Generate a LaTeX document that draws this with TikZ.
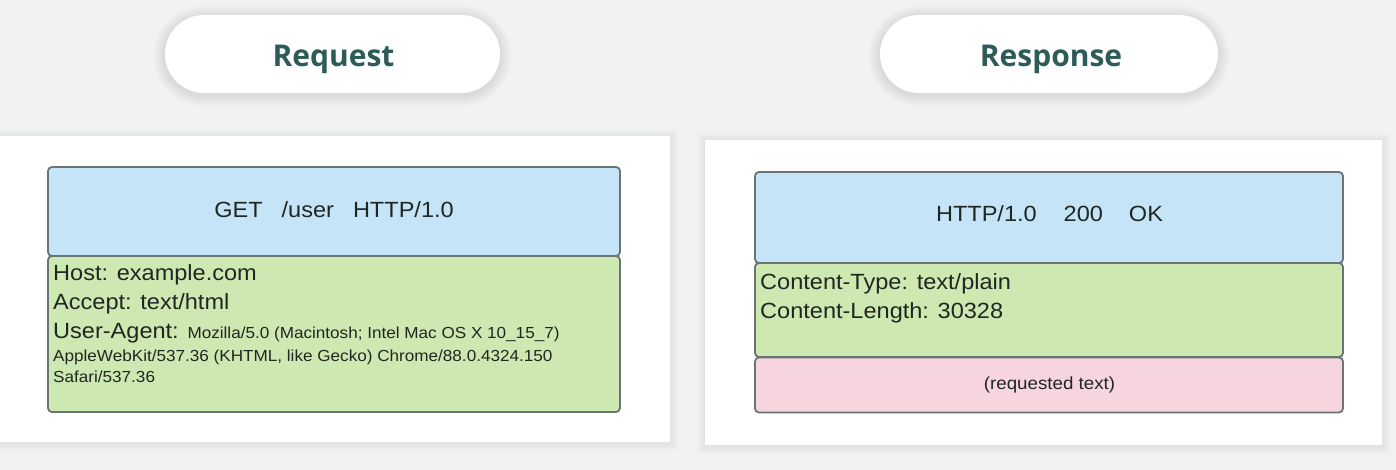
\documentclass[tikz,border=0pt]{standalone}
\usepackage{fontspec}
\newfontfamily\boxfont[FakeStretch=1.07]{Liberation Sans}
\newfontfamily\titlefont{Open Sans}
\definecolor{bgc}{HTML}{F1F3F3}
\definecolor{hdrblue}{HTML}{C6E4F7}
\definecolor{hdrgreen}{HTML}{CDE8B1}
\definecolor{bodypink}{HTML}{F7D5DE}
\definecolor{edgec}{HTML}{6B7474}
\definecolor{titlec}{HTML}{2D5C58}
\definecolor{txtc}{HTML}{1F2722}
\newcommand{\bigtxt}{\boxfont\fontsize{22}{26}\selectfont}
\newcommand{\smalltxt}{\boxfont\fontsize{16}{19}\selectfont}
\tikzset{
  pill/.style={rectangle, rounded corners=39pt, fill=white, minimum width=335pt, minimum height=78pt, inner sep=0pt},
  shadowlayer/.style={rectangle, fill=black, fill opacity=0.009, inner sep=0pt},
  panel/.style={rectangle, fill=white, inner sep=0pt},
  title/.style={inner sep=0pt, anchor=base, text=titlec, font=\titlefont\bfseries\fontsize{30}{36}\selectfont},
  boxpart/.style={rectangle, rounded corners=4pt, draw=edgec, line width=1.8pt, inner sep=0pt},
  line/.style={inner sep=0pt, anchor=base west, text=txtc, font=\bigtxt},
  cline/.style={inner sep=0pt, anchor=base, text=txtc, font=\bigtxt},
}
\begin{document}
\begin{tikzpicture}[x=1pt,y=-1pt]
\useasboundingbox (0,0) rectangle (1396,470);
\fill[bgc] (0,0) rectangle (1396,470);

% soft shadows
\foreach \i in {1,...,12}{
  \node[shadowlayer, rounded corners=39pt+\i pt, minimum width=335pt+2*\i pt, minimum height=78pt+2*\i pt] (reqsh\i) at (332.5,56) {};
  \node[shadowlayer, rounded corners=39pt+\i pt, minimum width=338pt+2*\i pt, minimum height=78pt+2*\i pt] (ressh\i) at (1049,56) {};
}
\foreach \i in {1,...,8}{
  \node[shadowlayer, minimum width=670pt+2*\i pt, minimum height=306pt+2*\i pt] (lpsh\i) at (335,290) {};
  \node[shadowlayer, minimum width=677pt+2*\i pt, minimum height=305pt+2*\i pt] (rpsh\i) at (1043.5,293.5) {};
}

% panels
\node[panel, minimum width=670pt, minimum height=306pt] (leftpanel) at (335,289) {};
\node[panel, minimum width=677pt, minimum height=305pt] (rightpanel) at (1043.5,292.5) {};

% title pills
\node[pill] (reqpill) at (332.5,54) {};
\node[pill, minimum width=338pt] (respill) at (1049,54) {};
\node[title] (reqtitle) at (333.5,67) {Request};
\node[title] (restitle) at (1051,67) {Response};

% request boxes
\node[boxpart, fill=hdrblue, minimum width=572pt, minimum height=89pt] (reqhead) at (334,211.5) {};
\node[boxpart, fill=hdrgreen, minimum width=572pt, minimum height=156pt] (reqhdrs) at (334,334) {};
\node[cline] (reqline) at (334,218) {GET\hspace{19pt}/user\hspace{19pt}HTTP/1.0};
\node[line] (hostln) at (53,280) {Host: example.com};
\node[line] (acceptln) at (53,309) {Accept: text/html};
\node[line] (ualn) at (53,338) {User-Agent: {\smalltxt Mozilla/5.0 (Macintosh; Intel Mac OS X 10\_15\_7)}};
\node[line, font=\smalltxt] (webkitln) at (53,361) {AppleWebKit/537.36 (KHTML, like Gecko) Chrome/88.0.4324.150};
\node[line, font=\smalltxt] (safariln) at (53,382) {Safari/537.36};

% response boxes
\node[boxpart, fill=hdrblue, minimum width=588pt, minimum height=91pt] (reshead) at (1049,217.5) {};
\node[boxpart, fill=hdrgreen, minimum width=588pt, minimum height=94pt] (reshdrs) at (1049,310) {};
\node[boxpart, fill=bodypink, minimum width=588pt, minimum height=55pt] (resbody) at (1049,385) {};
\node[cline] (statusln) at (1049.5,222) {HTTP/1.0\hspace{27pt}200\hspace{26pt}OK};
\node[line] (ctypeln) at (760,289) {Content-Type: text/plain};
\node[line] (clenln) at (760,318) {Content-Length: 30328};
\node[cline, font=\boxfont\fontsize{17.5}{20}\selectfont] (bodyln) at (1049.5,389) {(requested text)};
\end{tikzpicture}
\end{document}
